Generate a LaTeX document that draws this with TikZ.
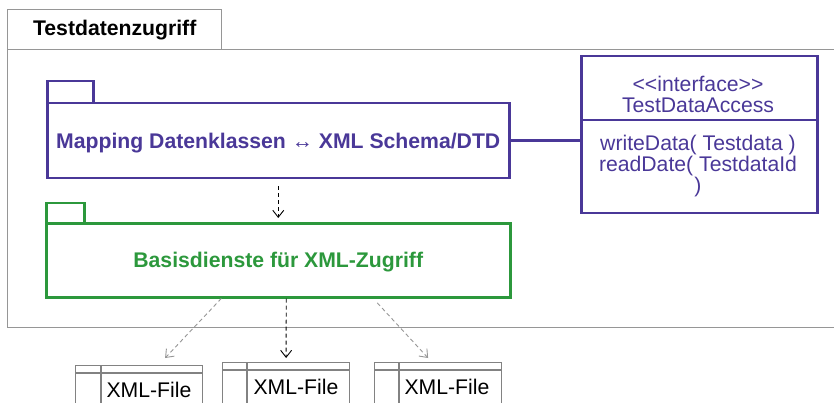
\documentclass[tikz,border=0pt]{standalone}
\usepackage{fontspec}
\setmainfont{Liberation Sans}[Ligatures=TeXOff]
\usepackage{xcolor}
\usetikzlibrary{arrows.meta,positioning,calc}

\definecolor{pkgpurple}{RGB}{74,56,152}
\definecolor{pkggreen}{RGB}{44,152,60}
\definecolor{framegray}{RGB}{150,150,150}
\definecolor{filegray}{RGB}{130,130,130}
\newcommand{\pkgfont}{\fontsize{21.2}{21}\selectfont}

\begin{document}
\begin{tikzpicture}[
    x=1pt, y=-1pt,
    font=\pkgfont,
    outer/.style={rectangle, draw=framegray, line width=1.4pt, inner sep=0pt, anchor=north west},
    mappkg/.style={rectangle, draw=pkgpurple, line width=2.5pt, inner sep=0pt, text depth=0pt, anchor=north west},
    basepkg/.style={rectangle, draw=pkggreen, line width=2.5pt, inner sep=0pt, text depth=0pt, anchor=north west},
    ifacebox/.style={rectangle, draw=pkgpurple, line width=2.5pt, inner sep=0pt, minimum width=236pt, minimum height=157pt, anchor=north west},
    ifacetext/.style={text=pkgpurple, align=center, inner sep=0pt},
    xmlfile/.style={rectangle, draw=filegray, line width=1.2pt, inner sep=0pt, minimum width=127pt, minimum height=60pt, anchor=north west},
    dep/.style={-{Straight Barb[length=7pt,width=11pt]}, dash pattern=on 4pt off 3pt, line width=0.9pt}
]
\useasboundingbox (0,0) rectangle (834,403);

% outer package
\node[outer, minimum width=214pt, minimum height=40pt, font=\pkgfont\bfseries] (outertab) at (7,9) {Testdatenzugriff};
\node[outer, minimum width=870pt, minimum height=278pt] (outerbody) at (7,49) {};

% mapping package
\node[mappkg, minimum width=46pt, minimum height=22pt] (maptab) at (46,80) {};
\node[mappkg, minimum width=462pt, minimum height=75pt, font=\pkgfont\bfseries, text=pkgpurple] (mapbody) at (46,102) {Mapping Datenklassen ↔ XML Schema/DTD};

% basis package
\node[basepkg, minimum width=38pt, minimum height=20pt] (basetab) at (45,202) {};
\node[basepkg, minimum width=464pt, minimum height=74pt, font=\pkgfont\bfseries, text=pkggreen] (basebody) at (45,222) {Basisdienste für XML-Zugriff};

% interface
\node[ifacebox] (iface) at (580,55) {};
\node[ifacetext] (ifname) at (698,94) {<<interface>>\\TestDataAccess};
\node[ifacetext] (ifops) at (698,166) {writeData( Testdata )\\readDate( TestdataId\\)};
\draw[pkgpurple, line width=2.5pt] (iface.west |- 0,120) -- (iface.east |- 0,120);
\draw[pkgpurple, line width=2.5pt] (mapbody.east) -- (iface.west |- mapbody.east);

% xml files
\node[xmlfile] (file1) at (75,365) {};
\node[xmlfile] (file2) at (222,362) {};
\node[xmlfile] (file3) at (374,362) {};
\draw[filegray, line width=1.2pt] ($(file1.north west)+(0,8)$) -- ($(file1.north east)+(0,8)$);
\draw[filegray, line width=1.2pt] ($(file1.north west)+(26,0)$) -- ($(file1.south west)+(26,0)$);
\draw[filegray, line width=1.2pt] ($(file2.north west)+(0,8)$) -- ($(file2.north east)+(0,8)$);
\draw[filegray, line width=1.2pt] ($(file2.north west)+(25,0)$) -- ($(file2.south west)+(25,0)$);
\draw[filegray, line width=1.2pt] ($(file3.north west)+(0,8)$) -- ($(file3.north east)+(0,8)$);
\draw[filegray, line width=1.2pt] ($(file3.north west)+(25,0)$) -- ($(file3.south west)+(25,0)$);
\node (file1lbl) at ($(file1.north west)+(74,25)$) {XML-File};
\node (file2lbl) at ($(file2.north west)+(74,25)$) {XML-File};
\node (file3lbl) at ($(file3.north west)+(73,25)$) {XML-File};

% dependencies
\draw[dep, shorten <=7pt, shorten >=4pt] (mapbody.south) -- (basebody.north);
\draw[dep, draw=framegray] ([xshift=-57pt]basebody.south) -- ([xshift=26pt,yshift=7pt]file1.north);
\draw[dep] ([xshift=8pt]basebody.south) -- ([yshift=4pt]file2.north);
\draw[dep, draw=framegray, shorten <=6pt] ([xshift=95pt]basebody.south) -- ([xshift=-10pt,yshift=4pt]file3.north);

\end{tikzpicture}
\end{document}
